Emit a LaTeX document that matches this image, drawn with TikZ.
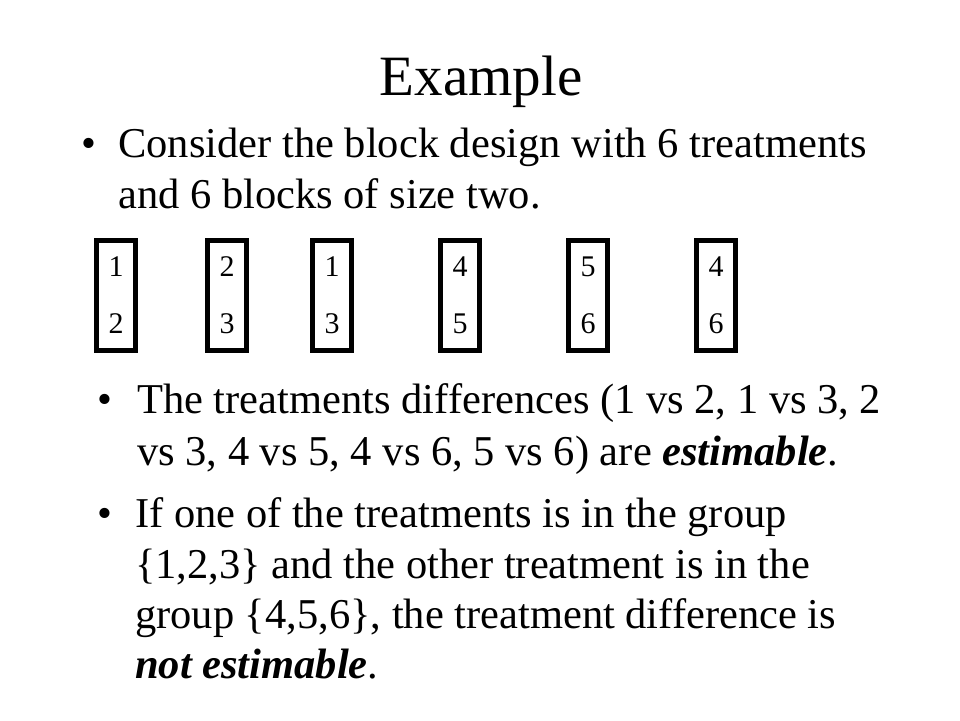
\documentclass[tikz,border=0pt]{standalone}
\usepackage{fontspec}
\setmainfont{Liberation Serif}
\begin{document}
\begin{tikzpicture}[x=1pt,y=-1pt,
  txt/.style={inner sep=0pt,anchor=base west,font=\fontsize{42.5}{51}\selectfont},
  bul/.style={inner sep=0pt,anchor=base,font=\fontsize{42.5}{51}\selectfont},
  blk/.style={draw=black,line width=5pt},
  dig/.style={inner sep=0pt,anchor=base,font=\fontsize{30}{34}\selectfont}]
\useasboundingbox (0,0) rectangle (960,720);
\fill[white] (0,0) rectangle (960,720);
% title
\node[inner sep=0pt,anchor=base,font=\fontsize{57}{64}\selectfont] (title) at (481,95) {Example};
% bullet 1
\node[bul] (b1) at (89,157) {•};
\node[txt] (l1) at (118,157) {Consider the block design with 6 treatments};
\node[txt] (l2) at (118,208) {and 6 blocks of size two.};
% blocks
\foreach \cx/\a/\b [count=\i] in {116/1/2,227/2/3,332/1/3,460/4/5,588/5/6,716/4/6}{
  \draw[blk] (\cx-19.5,240.5) rectangle (\cx+19.5,350.5);
  \node[dig] (t\i) at (\cx,276) {\a};
  \node[dig] (u\i) at (\cx,333) {\b};
}
% bullet 2
\node[bul] (b2) at (105,413) {•};
\node[txt] (l3) at (137,413) {The treatments differences (1 vs 2, 1 vs 3, 2};
\node[txt] (l4) at (137,465) {vs 3, 4 vs 5, 4 vs 6, 5 vs 6) are \textbf{\textit{estimable}}.};
% bullet 3
\node[bul] (b3) at (105,527) {•};
\node[txt] (l5) at (135,527) {If one of the treatments is in the group};
\node[txt] (l6) at (135,578) {\{1,2,3\} and the other treatment is in the};
\node[txt] (l7) at (135,628) {group \{4,5,6\}, the treatment difference is};
\node[txt] (l8) at (135,678) {\textbf{\textit{not estimable}}.};
\end{tikzpicture}
\end{document}
